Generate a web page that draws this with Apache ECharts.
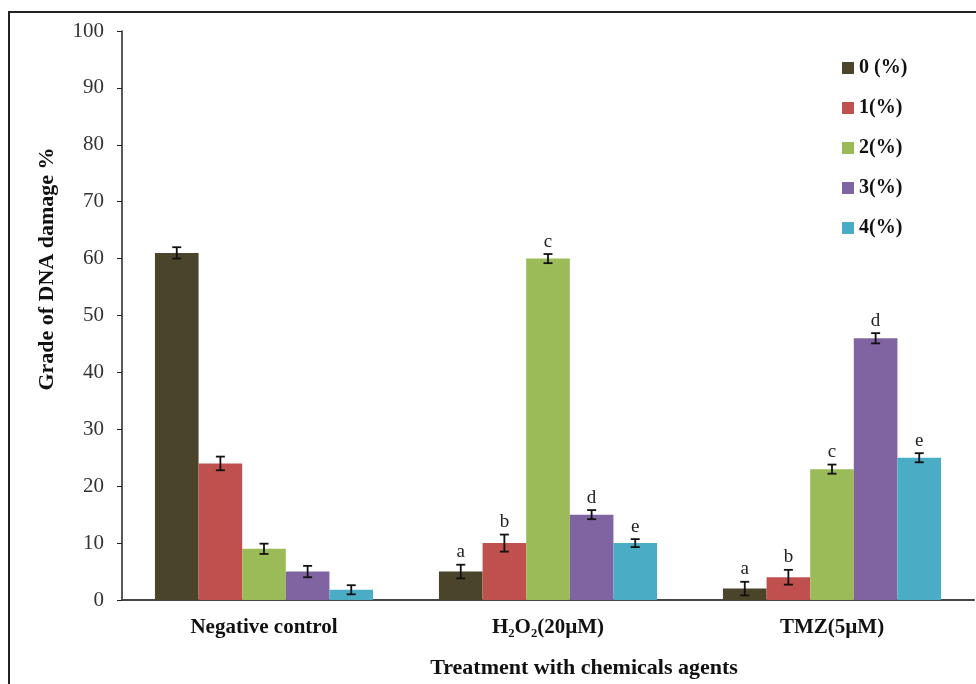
<!DOCTYPE html>
<html>
<head>
<meta charset="utf-8">
<script src="https://cdn.jsdelivr.net/npm/echarts@6/dist/echarts.min.js"></script>
<style>html,body{margin:0;padding:0;background:#fff}#c{width:976px;height:684px}</style>
</head>
<body>
<div id="c"></div>
<script>
var categories = ['Negative control', 'H\u2082O\u2082(20\u00b5M)', 'TMZ(5\u00b5M)'];
var seriesNames = ['0 (%)', '1(%)', '2(%)', '3(%)', '4(%)'];
var colors = ['#4A452A', '#C0504D', '#9BBB59', '#8064A2', '#4BACC6'];
var grade0 = [61, 5, 2];
var grade1 = [24, 10, 4];
var grade2 = [9, 60, 23];
var grade3 = [5, 15, 46];
var grade4 = [1.8, 10, 25];
var err0 = [1, 1.2, 1.2];
var err1 = [1.2, 1.5, 1.3];
var err2 = [0.9, 0.8, 0.8];
var err3 = [1, 0.8, 0.9];
var err4 = [0.8, 0.7, 0.8];
var letters0 = ['', 'a', 'a'];
var letters1 = ['', 'b', 'b'];
var letters2 = ['', 'c', 'c'];
var letters3 = ['', 'd', 'd'];
var letters4 = ['', 'e', 'e'];
var yTicks = [0, 10, 20, 30, 40, 50, 60, 70, 80, 90, 100];

var values = [grade0, grade1, grade2, grade3, grade4];
var errs = [err0, err1, err2, err3, err4];
var letters = [letters0, letters1, letters2, letters3, letters4];
var CAT_GAP = 0.232;
var serif = '"Liberation Serif", "Times New Roman", serif';

var series = [];
values.forEach(function (vals, i) {
  series.push({
    name: seriesNames[i], type: 'bar', data: vals,
    barGap: '0%', barCategoryGap: (CAT_GAP * 100) + '%',
    itemStyle: { color: colors[i] }
  });
});
var errData = [];
values.forEach(function (vals, i) {
  vals.forEach(function (v, j) {
    errData.push([j, v, errs[i][j], i, letters[i][j]]);
  });
});
series.push({
  type: 'custom', name: 'err', data: errData, z: 10,
  encode: { x: 0, y: 1 },
  renderItem: function (params, api) {
    var cat = api.value(0), v = api.value(1), e = api.value(2), si = api.value(3);
    var letter = errData[params.dataIndex][4];
    var catW = api.size([1, 0])[0];
    var bw = catW * (1 - CAT_GAP) / 5;
    var c = api.coord([cat, v]);
    var x = c[0] + (si - 2) * bw;
    var top = api.coord([cat, v + e])[1];
    var bot = api.coord([cat, Math.max(v - e, 0)])[1];
    var cap = 4.5;
    var st = { stroke: '#111', lineWidth: 1.8 };
    var children = [
      { type: 'line', shape: { x1: x, y1: top, x2: x, y2: bot }, style: st },
      { type: 'line', shape: { x1: x - cap, y1: top, x2: x + cap, y2: top }, style: st },
      { type: 'line', shape: { x1: x - cap, y1: bot, x2: x + cap, y2: bot }, style: st }
    ];
    if (letter) {
      children.push({ type: 'text', style: { text: letter, x: x, y: top - 3, align: 'center', verticalAlign: 'bottom', font: '19px ' + serif, fill: '#222' } });
    }
    return { type: 'group', children: children };
  }
});

var chart = echarts.init(document.getElementById('c'));
chart.setOption({
  animation: false,
  backgroundColor: '#fff',
  grid: { left: 122, right: 2, top: 31, bottom: 84 },
  legend: {
    data: seriesNames, orient: 'vertical', left: 837, top: 53,
    itemWidth: 12, itemHeight: 12, itemGap: 20, icon: 'rect',
    textStyle: { fontFamily: serif, fontWeight: 'bold', fontSize: 20, color: '#111' }
  },
  xAxis: {
    type: 'category', data: categories,
    axisLine: { lineStyle: { color: '#444', width: 2 } },
    axisTick: { length: 5, lineStyle: { color: '#444' } },
    axisLabel: { margin: 17, fontFamily: serif, fontWeight: 'bold', fontSize: 21, color: '#111' }
  },
  yAxis: {
    type: 'value', min: 0, max: 100, interval: 10,
    splitLine: { show: false },
    axisLine: { show: true, lineStyle: { color: '#222', width: 1.5 } },
    axisTick: { show: true, length: 5, lineStyle: { color: '#222' } },
    axisLabel: { margin: 18, fontFamily: serif, fontSize: 21, color: '#333',
      formatter: function (v) { return yTicks.indexOf(v) >= 0 ? String(v) : ''; } }
  },
  graphic: [
    { type: 'rect', shape: { x: 9, y: 12, width: 1000, height: 700 }, style: { fill: 'none', stroke: '#222', lineWidth: 2 }, silent: true },
    { type: 'text', x: 47, y: 269, rotation: Math.PI / 2, style: { text: 'Grade of DNA damage %', align: 'center', verticalAlign: 'middle', font: 'bold 22px ' + serif, fill: '#111' } },
    { type: 'text', x: 584, y: 668, style: { text: 'Treatment with chemicals agents', align: 'center', verticalAlign: 'middle', font: 'bold 22px ' + serif, fill: '#111' } }
  ],
  series: series
});
</script>
</body>
</html>
